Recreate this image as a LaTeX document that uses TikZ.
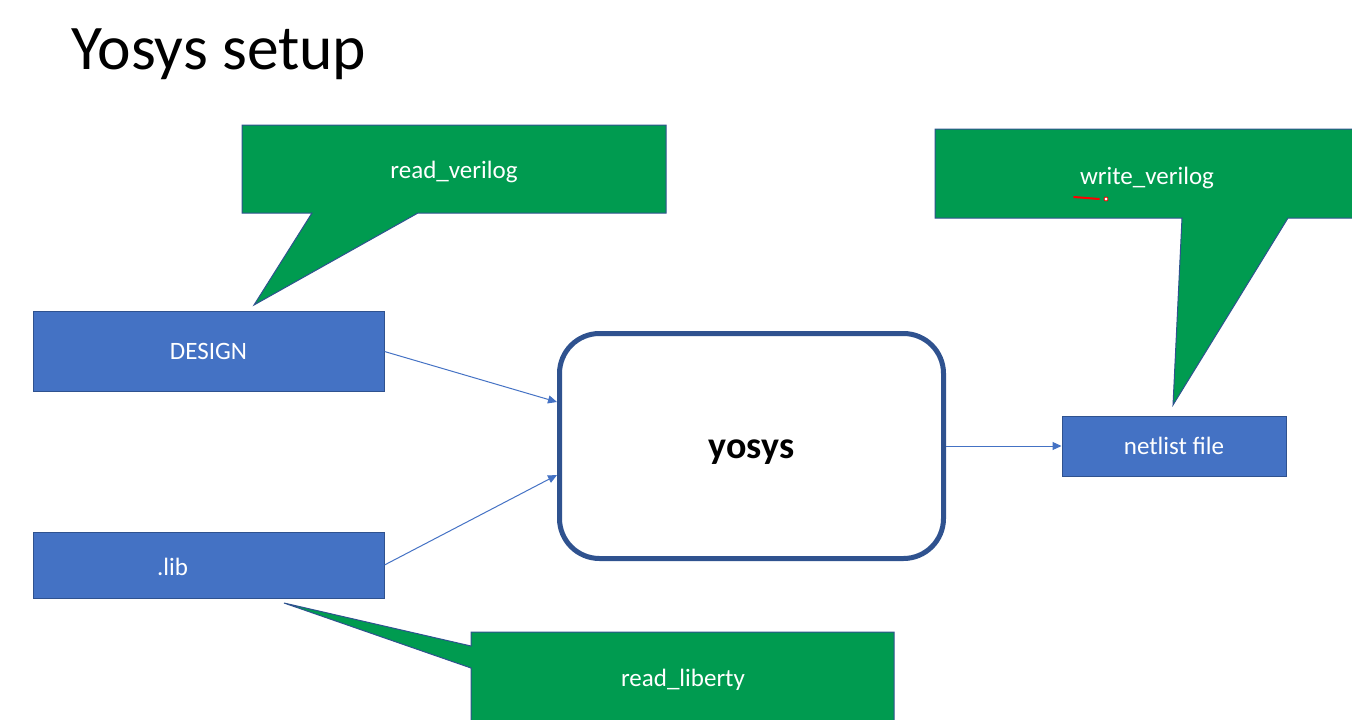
\documentclass[tikz,border=0pt]{standalone}
\usepackage{fontspec}
\setmainfont{Carlito}
\usetikzlibrary{arrows.meta}

\definecolor{boxblue}{RGB}{68,114,196}
\definecolor{edgeblue}{RGB}{47,82,143}
\definecolor{callgreen}{RGB}{0,155,80}

\tikzset{
  filebox/.style={rectangle,fill=boxblue,draw=edgeblue,line width=1pt,
    text=white,font=\fontsize{25}{30}\selectfont},
  callout/.style={fill=callgreen,draw=edgeblue,line width=1pt},
  calltext/.style={text=white,font=\fontsize{25}{30}\selectfont},
  flow/.style={draw=boxblue,line width=1pt,-{Triangle[length=9pt,width=8pt]}}
}

\begin{document}
\begin{tikzpicture}[x=1pt,y=-1pt]

      \useasboundingbox (0,0) rectangle (1352,720);

      \node[anchor=base west,font=\fontsize{63.5}{70}\selectfont] (title) at (68,69) {Yosys setup};

      % callout shapes
      \path[callout] (242,125) -- (666,125) -- (666,213) -- (418,213) -- (254,305)
        -- (312,213) -- (242,213) -- cycle;
      \path[callout] (935,129) -- (1358,129) -- (1358,218) -- (1288,218) -- (1173,405)
        -- (1182,218) -- (935,218) -- cycle;
      \path[callout] (471,632) -- (894,632) -- (894,724) -- (471,724) -- (471,668)
        -- (284,603) -- (471,646) -- cycle;

      \begin{scope}[every node/.style={calltext}]
        \node (rdverilog) at (454,171.5) {read\_verilog};
        \node (wrverilog) at (1147,177.5) {write\_verilog};
        \node (rdliberty) at (683,679.5) {read\_liberty};
      \end{scope}

      % pen mark
      \draw[red,line width=2pt,line cap=round] (1074,197) -- (1099,199);
      \draw[red,fill=white,line width=0.8pt] (1106,199) circle (2);

      \begin{scope}[every node/.style={filebox}]
        \node[minimum width=351,minimum height=80] (design) at (208.5,351.5) {DESIGN};
        \node[minimum width=351,minimum height=66,
              label={[filebox,draw=none,fill=none,xshift=-36pt,yshift=-2pt]center:.lib}] (lib) at (208.5,565) {};
        \node[minimum width=224,minimum height=60] (netlist) at (1174,446) {netlist file};
      \end{scope}

      \node[draw=edgeblue,line width=5pt,rounded corners=40pt,fill=white,
            minimum width=384,minimum height=225,
            label={[font=\fontsize{38}{44}\selectfont\bfseries,yshift=-6pt]center:yosys}] (yosys) at (751.5,446) {};

      \begin{scope}[every edge/.style={flow}]
        \path (design.east) edge ([yshift=44pt]yosys.west);
        \path (lib.east)    edge ([yshift=-29pt]yosys.west);
        \path (yosys.east)  edge (netlist.west);
      \end{scope}

    \end{tikzpicture}
\end{document}
